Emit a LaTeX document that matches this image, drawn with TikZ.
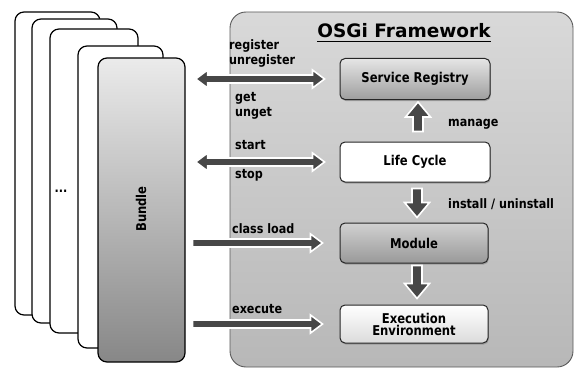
\documentclass[tikz,border=0pt]{standalone}
\usepackage{fontspec}
\setmainfont{DejaVu Sans}[FakeStretch=0.86]
\newfontfamily\titlefont{DejaVu Sans}
\usetikzlibrary{calc,shadows}
\def\ahl{12pt}\def\ahw{9pt}\def\asw{4pt}
\def\vhl{15pt}\def\vhw{12.5pt}\def\vsw{5pt}
\newcommand\mydblarr[2]{\filldraw[arrowfill] let \p1=(#1), \p2=(#2) in
 (\x1,\y1) -- ({\x1+\ahl},{\y1+\ahw}) -- ({\x1+\ahl},{\y1+\asw}) -- ({\x2-\ahl},{\y1+\asw}) -- ({\x2-\ahl},{\y1+\ahw}) -- (\x2,\y1)
 -- ({\x2-\ahl},{\y1-\ahw}) -- ({\x2-\ahl},{\y1-\asw}) -- ({\x1+\ahl},{\y1-\asw}) -- ({\x1+\ahl},{\y1-\ahw}) -- cycle;}
\newcommand\myrarr[2]{\filldraw[arrowfill] let \p1=(#1), \p2=(#2) in
 (\x1,{\y1+\asw}) -- ({\x2-\ahl},{\y1+\asw}) -- ({\x2-\ahl},{\y1+\ahw}) -- (\x2,\y1)
 -- ({\x2-\ahl},{\y1-\ahw}) -- ({\x2-\ahl},{\y1-\asw}) -- (\x1,{\y1-\asw}) -- cycle;}
\newcommand\myuarr[2]{\filldraw[arrowfill] let \p1=(#1), \p2=(#2) in
 (\x2,\y2) -- ({\x2+\vhw},{\y2-\vhl}) -- ({\x2+\vsw},{\y2-\vhl}) -- ({\x2+\vsw},\y1) -- ({\x2-\vsw},\y1)
 -- ({\x2-\vsw},{\y2-\vhl}) -- ({\x2-\vhw},{\y2-\vhl}) -- cycle;}
\newcommand\mydarr[2]{\filldraw[arrowfill] let \p1=(#1), \p2=(#2) in
 (\x2,\y2) -- ({\x2+\vhw},{\y2+\vhl}) -- ({\x2+\vsw},{\y2+\vhl}) -- ({\x2+\vsw},\y1) -- ({\x2-\vsw},\y1)
 -- ({\x2-\vsw},{\y2+\vhl}) -- ({\x2-\vhw},{\y2+\vhl}) -- cycle;}
\begin{document}
\begin{tikzpicture}[x=1pt,y=-1pt,
  card/.style={draw=black, line width=1.2pt, rounded corners=9pt, fill=white},
  comp/.style={draw=black!85, line width=1pt, rounded corners=5pt, minimum width=150pt, minimum height=41pt,
    font=\bfseries\fontsize{13.5}{15}\selectfont, align=center, inner sep=1pt,
    drop shadow={shadow xshift=0.8pt, shadow yshift=-1.5pt, opacity=.55}},
  lbl/.style={anchor=base west, font=\bfseries\fontsize{13}{14}\selectfont, inner sep=0pt},
  arrowfill/.style={fill=black!72, draw=white, line width=1.6pt, line join=miter}]
\useasboundingbox (0,0) rectangle (578,369);
% stacked bundle cards
\draw[card] (15,12) rectangle (100,315);
\draw[card] (32,19) rectangle (117,323);
\draw[card] (50,29) rectangle (138,333);
\draw[card] (78,46) rectangle (163,348);
\node[font=\bfseries\fontsize{13}{14}\selectfont, inner sep=0pt] (dots) at (61,191) {...};
\node[draw=black, line width=1.2pt, rounded corners=9pt, minimum width=87pt, minimum height=304pt,
  top color=black!8, bottom color=black!47, inner sep=0pt] (bundle) at (141.5,210) {};
\node[rotate=90, font=\bfseries\fontsize{13.5}{15}\selectfont] (blabel) at (141,209) {Bundle};
% framework
\node[draw=black!65, line width=0.9pt, rounded corners=16pt, minimum width=343pt, minimum height=355pt,
  top color=black!15, bottom color=black!28, inner sep=0pt] (fw) at (401.5,189.5) {};
\node[font=\titlefont\bfseries\fontsize{18.5}{20}\selectfont, inner sep=0pt] (title) at (404,31) {OSGi Framework};
\draw[line width=1.4pt] ($(title.base west)+(0,3.5)$) -- ($(title.base east)+(0,3.5)$);
% components
\node[comp, top color=black!10, bottom color=black!38] (sr) at (415,79) {Service Registry};
\node[comp, fill=white, minimum height=40pt] (lc) at (415,162) {Life Cycle};
\node[comp, top color=black!18, bottom color=black!40, minimum width=148pt, minimum height=40pt] (mod) at (414,243) {Module};
\node[comp, top color=white, bottom color=black!14, minimum width=148pt, minimum height=38pt] (ex) at (414,324) {Execution\\[-3pt]Environment};
% horizontal arrows
\mydblarr{$(bundle.east |- sr.west)+(10,0)$}{$(sr.west)+(-15,0)$}
\mydblarr{$(bundle.east |- lc.west)+(10,0)$}{$(lc.west)+(-15,0)$}
\myrarr{$(bundle.east |- mod.west)+(7,0)$}{$(mod.west)+(-17,0)$}
\myrarr{$(bundle.east |- ex.west)+(7,0)$}{$(ex.west)+(-17,0)$}
% vertical arrows
\myuarr{$(lc.north)+(3,-10)$}{$(sr.south)+(3,2)$}
\mydarr{$(lc.south)+(3,6)$}{$(mod.north)+(3,-5)$}
\mydarr{$(mod.south)+(3,2)$}{$(ex.north)+(3,-6)$}
% labels
\node[lbl] (l1) at (229,49) {register};
\node[lbl] (l2) at (229,64) {unregister};
\node[lbl] (l3) at (235,101) {get};
\node[lbl] (l4) at (235,116) {unget};
\node[lbl] (l5) at (235,149) {start};
\node[lbl] (l6) at (235,178) {stop};
\node[lbl] (l7) at (232,233) {class load};
\node[lbl] (l8) at (232,313) {execute};
\node[lbl] (l9) at (448,126) {manage};
\node[lbl] (l10) at (448,208) {install / uninstall};
\end{tikzpicture}
\end{document}
